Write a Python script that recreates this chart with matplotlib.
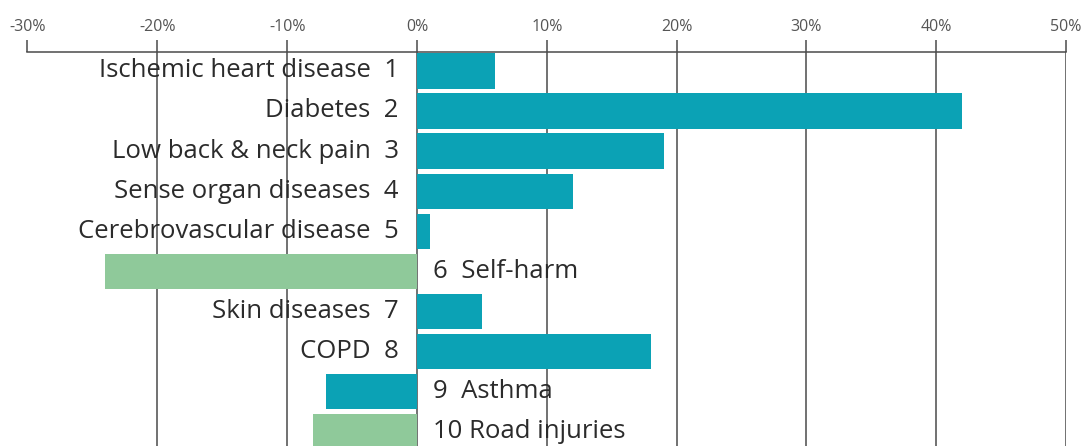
"""Change in ranking causes, horizontal diverging bar chart."""

import matplotlib.pyplot as plt

causes = [
    "Ischemic heart disease",
    "Diabetes",
    "Low back & neck pain",
    "Sense organ diseases",
    "Cerebrovascular disease",
    "Self-harm",
    "Skin diseases",
    "COPD",
    "Asthma",
    "Road injuries",
]
ranks = [1, 2, 3, 4, 5, 6, 7, 8, 9, 10]
change_pct = [6, 42, 19, 12, 1, -24, 5, 18, -7, -8]
bar_group = ["ncd", "ncd", "ncd", "ncd", "ncd", "inj", "ncd", "ncd", "ncd", "inj"]
xticks = [-30, -20, -10, 0, 10, 20, 30, 40, 50]

colors = {"ncd": "#0ba2b5", "inj": "#8fc99a"}
grid_color = "#4a4a4a"

plt.rcParams["font.family"] = ["Open Sans", "DejaVu Sans"]

fig = plt.figure(figsize=(10.84, 4.46), dpi=100)
ax = fig.add_axes([27.5 / 1084, 0, (1066 - 27.5) / 1084, 1 - 52 / 446])

# Vertical grid lines behind the bars
for xt in xticks:
    ax.axvline(xt, color=grid_color, linewidth=1.1, zorder=0)

ypos = list(range(len(causes)))
ax.barh(ypos, change_pct, height=0.88,
        color=[colors[g] for g in bar_group], zorder=2)

# Labels: left of zero for positive bars, right of zero for negative ones
for y, name, rank, val in zip(ypos, causes, ranks, change_pct):
    if val >= 0:
        ax.text(-1.4, y, f"{name}  {rank}", ha="right", va="center",
                fontsize=18.5, color="#2b2b2b", zorder=3)
    else:
        sep = "  " if rank < 10 else " "
        ax.text(1.2, y, f"{rank}{sep}{name}", ha="left", va="center",
                fontsize=18.5, color="#2b2b2b", zorder=3)

ax.set_xlim(-30, 50)
ax.set_ylim(9.35, -0.47)
ax.set_xticks(xticks)
ax.set_xticklabels([f"{x}%" for x in xticks])
ax.xaxis.tick_top()
ax.tick_params(axis="x", direction="out", length=9, width=1.1,
               color=grid_color, labelsize=11.5, labelcolor="#555555", pad=3)
ax.set_yticks([])

for side in ["left", "right", "bottom"]:
    ax.spines[side].set_visible(False)
ax.spines["top"].set_color(grid_color)
ax.spines["top"].set_linewidth(1.1)

plt.savefig("out.png", dpi=100)
plt.close(fig)
